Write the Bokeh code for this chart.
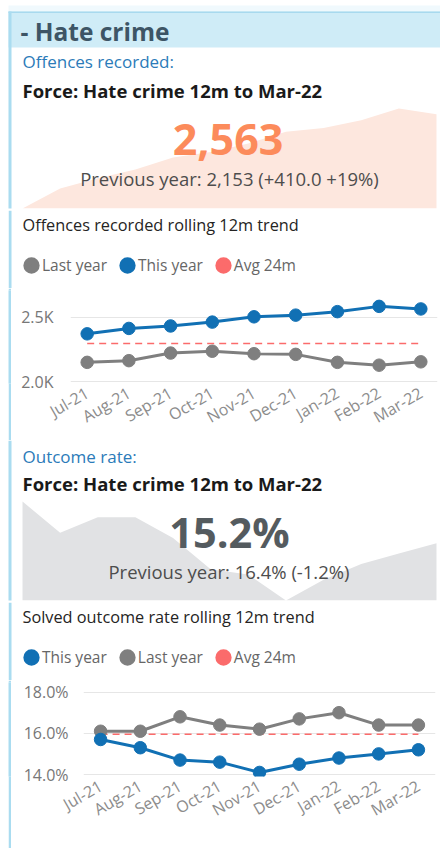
from math import radians, nan
from bokeh.plotting import figure
from bokeh.layouts import row
from bokeh.models import Range1d, Label, BoxAnnotation, FixedTicker, Legend, LegendItem, Spacer
from bokeh.embed import file_html
from bokeh.resources import INLINE

# ---------------- data ----------------
trend_months = ["Apr-21", "May-21", "Jun-21", "Jul-21", "Aug-21", "Sep-21",
                "Oct-21", "Nov-21", "Dec-21", "Jan-22", "Feb-22", "Mar-22"]
offences_trend = [2234, 2304, 2340, 2370, 2412, 2431, 2461, 2502, 2515, 2542, 2583, 2563]
outcome_trend = [16.0, 15.4, 15.7, 15.7, 15.3, 14.7, 14.6, 14.1, 14.5, 14.8, 15.0, 15.2]

chart_months = ["Jul-21", "Aug-21", "Sep-21", "Oct-21", "Nov-21", "Dec-21", "Jan-22", "Feb-22", "Mar-22"]
offences_this_year = [2370, 2412, 2431, 2461, 2502, 2515, 2542, 2583, 2563]
offences_last_year = [2149, 2162, 2221, 2235, 2216, 2211, 2149, 2127, 2153]
offences_avg_24m = 2295
offences_ticks = [2000, 2500]
offences_tick_labels = ["2.0K", "2.5K"]

outcome_this_year = [15.7, 15.3, 14.7, 14.6, 14.1, 14.5, 14.8, 15.0, 15.2]
outcome_last_year = [16.1, 16.1, 16.8, 16.4, 16.2, 16.7, 17.0, 16.4, 16.4]
outcome_avg_24m = 15.95
outcome_ticks = [14, 16, 18]
outcome_tick_labels = ["14.0%", "16.0%", "18.0%"]

section_title = "- Hate crime"
kpi1_name = "Offences recorded:"
kpi2_name = "Outcome rate:"
kpi_sub = "Force: Hate crime 12m to Mar-22"
chart1_title = "Offences recorded rolling 12m trend"
chart2_title = "Solved outcome rate rolling 12m trend"

# ---------------- styles ----------------
FONT = "Open Sans"
MID = 0.388  # distance baseline -> middle of the em box, in em (Open Sans)
W = 440
BLUE = "#1170b4"
GRAY = "#7f7f7f"
RED = "#fb6b6b"
BORDER = "#aadcf0"
HEADER = "#cfecf7"
TITLE_C = "#252423"
BX = 8  # x of the panel's left border
BW = 3  # border width


def add_text(p, x, y, text, size, color, bold=False, align="left", px=False):
    """y is the text baseline in pixels (downwards)."""
    kw = dict(x_range_name="px", y_range_name="px") if px else {}
    p.add_layout(Label(x=x, y=y - MID * size, text=text, text_font=FONT,
                       text_font_size=f"{size}px", text_color=color,
                       text_font_style="bold" if bold else "normal",
                       text_align=align, text_baseline="middle", **kw))


def add_box(p, left, right, top, bottom, color, px=False):
    kw = dict(x_range_name="px", y_range_name="px") if px else {}
    p.add_layout(BoxAnnotation(left=left, right=right, top=top, bottom=bottom,
                               fill_color=color, fill_alpha=1, line_color=None, **kw))


def bare(p):
    p.grid.visible = False
    p.outline_line_color = None
    return p


def text_fig(h):
    p = figure(width=W, height=h, x_range=Range1d(BX, W), y_range=Range1d(h, 0),
               x_axis_location=None, y_axis_location=None, toolbar_location=None,
               output_backend="svg", min_border_left=BX, min_border_right=0,
               min_border_top=0, min_border_bottom=0)
    bare(p)
    add_box(p, BX, BX + BW, 0, h, BORDER)
    return p


def area_fig(values, color, h, x0, x1, peak_px):
    """KPI card with a trend area; frame fills the figure (2px spare at bottom)."""
    n = len(values)
    lo, hi = min(values), max(values)
    fh = h - 2
    step = (x1 - x0) / (n - 1)
    p = figure(width=W, height=h,
               x_range=Range1d(-x0 / step, (n - 1) + (W - x1) / step),
               y_range=Range1d(lo, lo + (hi - lo) * fh / peak_px),
               x_axis_location=None, y_axis_location=None, toolbar_location=None,
               output_backend="svg", min_border_left=0, min_border_right=0,
               min_border_top=0, min_border_bottom=2)
    bare(p)
    p.extra_x_ranges = {"px": Range1d(0, W)}
    p.extra_y_ranges = {"px": Range1d(fh, 0)}
    p.varea(x=list(range(n)), y1=lo, y2=values, fill_color=color, fill_alpha=1)
    return p


def legend_fig(h, title, entries):
    p = text_fig(h)
    add_text(p, 22, 20.5, title, 16.3, TITLE_C)
    items = []
    for name, col in entries:
        r = p.scatter(x=[nan], y=[nan], size=10, fill_color=col, line_color=col, line_width=7.5)
        items.append(LegendItem(label=name, renderers=[r]))
    leg = Legend(items=items, orientation="horizontal", location="bottom_left",
                 margin=12, padding=0, spacing=9, label_standoff=0,
                 glyph_width=22, glyph_height=22, border_line_color=None,
                 background_fill_alpha=0, label_text_font=FONT,
                 label_text_font_size="15.5px", label_text_color="#666666")
    p.add_layout(leg)
    return p


def line_fig(h, xr, yr, frame, this_y, last_y, avg, ticks, tick_labels, standoff):
    """Line chart placed right of the panel border; frame given in block pixels."""
    fl, fr, ft, fb = frame
    x0 = BX + BW
    p = figure(width=W - x0, height=h, x_range=Range1d(*xr), y_range=Range1d(*yr),
               toolbar_location=None, output_backend="svg",
               min_border_left=fl - x0, min_border_right=W - fr,
               min_border_top=ft, min_border_bottom=h - fb)
    p.outline_line_color = None
    idx = list(range(len(chart_months)))
    p.line(idx, [avg] * len(idx), line_color=RED, line_dash="7 5", line_width=1.5)
    for ys, col in ((last_y, GRAY), (this_y, BLUE)):
        p.line(idx, ys, line_color=col, line_width=3)
        p.scatter(idx, ys, size=12.5, color=col)
    p.xaxis.ticker = FixedTicker(ticks=idx)
    p.xaxis.major_label_overrides = {i: m for i, m in enumerate(chart_months)}
    p.xaxis.major_label_orientation = radians(30)
    yt = FixedTicker(ticks=ticks)
    p.yaxis.ticker = yt
    p.ygrid.ticker = yt
    p.yaxis.major_label_overrides = dict(zip(ticks, tick_labels))
    for ax in (p.xaxis, p.yaxis):
        ax.axis_line_color = None
        ax.major_tick_line_color = None
        ax.minor_tick_line_color = None
        ax.major_tick_out = 0
        ax.major_tick_in = 0
        ax.major_label_text_font = FONT
    p.yaxis.major_label_text_font_size = "16px"
    p.yaxis.major_label_text_color = "#777777"
    p.yaxis.major_label_standoff = standoff
    p.xaxis.major_label_text_font_size = "16px"
    p.xaxis.major_label_text_color = "#8c8c8c"
    p.xaxis.major_label_standoff = 8
    p.xgrid.visible = False
    p.ygrid.grid_line_color = "#e6e6e6"

    strip = figure(width=BW, height=h, x_axis_location=None, y_axis_location=None,
                   toolbar_location=None, output_backend="svg", min_border_left=0,
                   min_border_right=0, min_border_top=0, min_border_bottom=0,
                   background_fill_color=BORDER, border_fill_color=BORDER)
    bare(strip)
    return row(Spacer(width=BX, height=h), strip, p, spacing=0)


# ---------------- section 1: header + offences card ----------------
fa = area_fig(offences_trend, "#fde7de", 210, 22, 436, 100)
add_box(fa, BX, W, 5, 11, "#f0f9fd", px=True)
add_box(fa, BX, W, 11, 47, HEADER, px=True)
add_box(fa, BX, W, 11, 12.5, "#a8d9ee", px=True)
add_box(fa, BX, BX + BW, 11, 210, BORDER, px=True)
add_text(fa, 20, 41, section_title, 24.5, "#3d5566", bold=True, px=True)
add_text(fa, 22, 67.5, kpi1_name, 17, "#2b7bb9", px=True)
add_text(fa, 22, 97, kpi_sub, 18.5, "#1a1a1a", bold=True, px=True)
cur, prev = offences_this_year[-1], offences_last_year[-1]
add_text(fa, 227.5, 156, f"{cur:,}", 43, "#fc8b5b", bold=True, align="center", px=True)
add_text(fa, 229, 185, f"Previous year: {prev:,} ({cur - prev:+.1f} {(cur - prev) / prev:+.0%})",
         18.5, "#4d4d4d", align="center", px=True)

fb = legend_fig(78, chart1_title, [("Last year", GRAY), ("This year", BLUE), ("Avg 24m", RED)])
fc = line_fig(152, (-0.4, 8.4), (1985, 2706), (70, 437, 2, 100),
              offences_this_year, offences_last_year, offences_avg_24m,
              offences_ticks, offences_tick_labels, 17)

# ---------------- section 2: outcome card ----------------
fd = area_fig(outcome_trend, "#e1e2e4", 162, 22, 436, 99)
add_box(fd, BX, BX + BW, 0, 162, BORDER, px=True)
add_text(fd, 22, 22.5, kpi2_name, 17, "#2b7bb9", px=True)
add_text(fd, 22, 50, kpi_sub, 18.5, "#1a1a1a", bold=True, px=True)
cur2, prev2 = outcome_this_year[-1], outcome_last_year[-1]
add_text(fd, 229, 107.5, f"{cur2:.1f}%", 41.5, "#545b5f", bold=True, align="center", px=True)
add_text(fd, 228.5, 138, f"Previous year: {prev2:.1f}% ({cur2 - prev2:+.1f}%)",
         18.5, "#4d4d4d", align="center", px=True)

fe = legend_fig(78, chart2_title, [("This year", BLUE), ("Last year", GRAY), ("Avg 24m", RED)])
ff = line_fig(168, (-0.43, 8.43), (13.903, 18.466), (83, 435, 2, 96),
              outcome_this_year, outcome_last_year, outcome_avg_24m,
              outcome_ticks, outcome_tick_labels, 15)

open("out.html", "w").write(file_html([fa, fb, fc, fd, fe, ff], INLINE, title="Hate crime"))
